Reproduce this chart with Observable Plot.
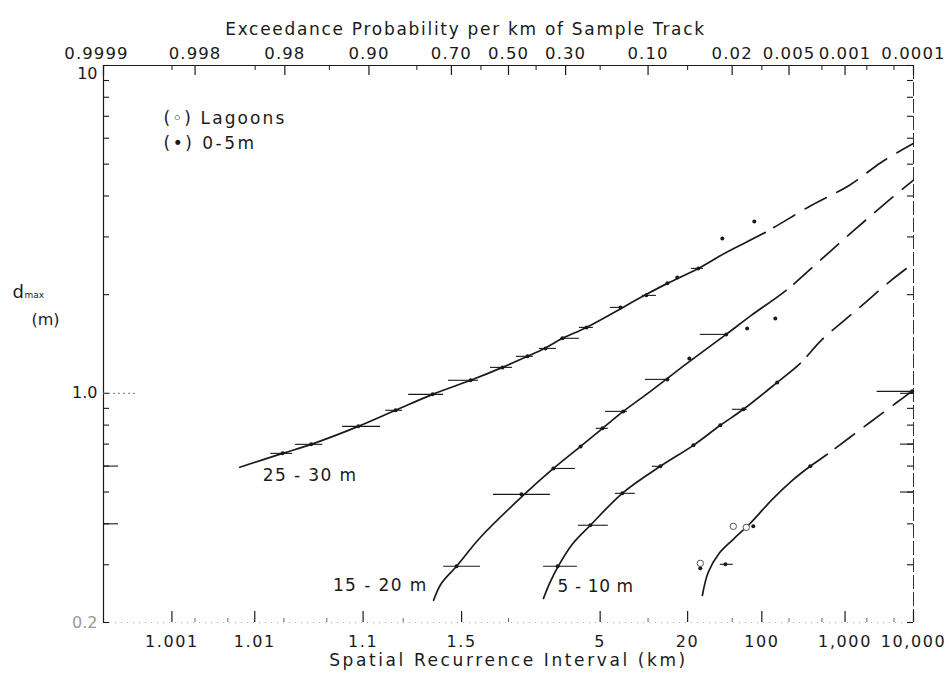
<!DOCTYPE html>
<html>
<head>
<meta charset="utf-8">
<script src="https://cdn.jsdelivr.net/npm/d3@7"></script>
<script src="https://cdn.jsdelivr.net/npm/@observablehq/plot@0.6"></script>
<style>
  html, body { margin: 0; padding: 0; background: #fff; }
  #chart svg { display: block; }
</style>
</head>
<body>
<div id="chart"></div>
<script>
// ---------------------------------------------------------------------------
// Axis ticks
// ---------------------------------------------------------------------------
const exceedanceTicks  = [0.9999, 0.998, 0.98, 0.90, 0.70, 0.50, 0.30, 0.10, 0.02, 0.005, 0.001, 0.0001];
const exceedanceLabels = ["0.9999", "0.998", "0.98", "0.90", "0.70", "0.50", "0.30", "0.10", "0.02", "0.005", "0.001", "0.0001"];
const exceedanceMinor  = [0.999, 0.99, 0.95, 0.80, 0.60, 0.40, 0.20, 0.05, 0.01, 0.002, 0.0005, 0.0002];
const intervalTicks    = [1.001, 1.01, 1.1, 1.5, 5, 20, 100, 1000, 10000];
const intervalLabels   = ["1.001", "1.01", "1.1", "1.5", "5", "20", "100", "1,000", "10,000"];
const intervalMinor    = [1.002, 1.005, 1.02, 1.05, 1.2, 2, 10, 50, 200, 500, 2000, 5000];
const depthTicks       = [0.2, 0.3, 0.4, 0.5, 0.6, 0.7, 0.8, 0.9, 1, 2, 3, 4, 5, 6, 7, 8, 9, 10];
const depthLongLeft    = [0.4, 0.6];
const depthLongRight   = [0.5, 0.7, 1];
const depthLabelValues = [10, 1, 0.2];
const depthLabels      = ["10", "1.0", "0.2"];

// ---------------------------------------------------------------------------
// Fitted curves: exceedance probability per km (P) vs maximum depth d_max (m).
// The "Obs" part is the observed range, the "Ext" part the extrapolation.
// ---------------------------------------------------------------------------
const fit2530ObsP = [0.9932, 0.981, 0.965, 0.916, 0.850, 0.757, 0.636, 0.522, 0.431, 0.371, 0.310, 0.237, 0.1027, 0.0723, 0.0407, 0.0228, 0.0092];
const fit2530ObsD = [0.595, 0.656, 0.699, 0.793, 0.888, 0.993, 1.096, 1.200, 1.297, 1.371, 1.472, 1.589, 2.004, 2.165, 2.405, 2.691, 3.097];
const fit2530ExtP = [0.00272, 0.00088, 0.000311, 0.000101];
const fit2530ExtD = [3.743, 4.307, 5.062, 5.783];

const fit1520ObsP = [0.7543, 0.731, 0.6833, 0.6014, 0.4453, 0.340, 0.254, 0.194, 0.146, 0.1027, 0.0723, 0.0494, 0.0228, 0.0129, 0.00539];
const fit1520ObsD = [0.2338, 0.2634, 0.2970, 0.364, 0.489, 0.590, 0.689, 0.782, 0.881, 0.993, 1.111, 1.243, 1.513, 1.729, 2.061];
const fit1520ExtP = [0.00204, 0.000704, 0.000221, 0.000101];
const fit1520ExtD = [2.562, 3.185, 3.931, 4.461];

const fit510ObsP = [0.374, 0.353, 0.326, 0.279, 0.226, 0.148, 0.0816, 0.0448, 0.0259, 0.0155, 0.0068, 0.00369];
const fit510ObsD = [0.237, 0.2634, 0.2947, 0.3465, 0.396, 0.4955, 0.599, 0.694, 0.799, 0.894, 1.080, 1.234];
const fit510ExtP = [0.00204, 0.000704, 0.000221, 0.000101];
const fit510ExtD = [1.451, 1.791, 2.211, 2.491];

const fit05ObsP = [0.0375, 0.0333, 0.0265, 0.0195, 0.0132, 0.00771, 0.00471, 0.0028, 0.00171];
const fit05ObsD = [0.2421, 0.2846, 0.3252, 0.3588, 0.4015, 0.4752, 0.5391, 0.5991, 0.6517];
const fit05ExtP = [0.000494, 0.000180, 0.000101];
const fit05ExtD = [0.804, 0.939, 1.021];

// ---------------------------------------------------------------------------
// Observations (dots) and their recurrence ranges (horizontal bars)
// ---------------------------------------------------------------------------
const obs2530P = [0.981, 0.965, 0.916, 0.850, 0.757, 0.636, 0.522, 0.431, 0.367, 0.310, 0.237, 0.152, 0.1027, 0.0723, 0.0606, 0.0407, 0.0248, 0.0120];
const obs2530D = [0.656, 0.699, 0.793, 0.888, 0.993, 1.096, 1.200, 1.297, 1.371, 1.472, 1.589, 1.829, 1.990, 2.165, 2.258, 2.405, 2.969, 3.345];
const bar2530P1 = [0.9855, 0.9747, 0.9361, 0.8703, 0.8204, 0.7088, 0.5655, 0.4709, 0.3882, 0.3167, 0.2575, 0.1746, 0.1095, 0.0466];
const bar2530P2 = [0.9763, 0.9560, 0.8798, 0.8345, 0.7244, 0.6083, 0.4853, 0.4094, 0.3300, 0.2575, 0.2177, 0.1436, 0.0872, 0.0368];
const bar2530D  = [0.656, 0.699, 0.793, 0.888, 0.993, 1.096, 1.200, 1.297, 1.371, 1.472, 1.589, 1.829, 1.990, 2.405];

const obs1520P = [0.6833, 0.4526, 0.340, 0.254, 0.194, 0.146, 0.0723, 0.0484, 0.0228, 0.0142, 0.00714];
const obs1520D = [0.2970, 0.492, 0.590, 0.689, 0.782, 0.881, 1.103, 1.278, 1.513, 1.578, 1.693];
const bar1520P1 = [0.7244, 0.5549, 0.340, 0.210, 0.1867, 0.1044, 0.0391];
const bar1520P2 = [0.6014, 0.3501, 0.2693, 0.1796, 0.1375, 0.0723, 0.0228];
const bar1520D  = [0.2970, 0.492, 0.590, 0.782, 0.881, 1.103, 1.513];

const obs510P = [0.326, 0.226, 0.148, 0.0816, 0.0448, 0.0259, 0.0155, 0.0068];
const obs510D = [0.297, 0.396, 0.4955, 0.599, 0.694, 0.799, 0.894, 1.080];
const bar510P1 = [0.374, 0.2604, 0.1631, 0.0933, 0.0199];
const bar510P2 = [0.2633, 0.1796, 0.122, 0.0789, 0.0142];
const bar510D  = [0.297, 0.396, 0.4955, 0.599, 0.894];

const obs05P = [0.0391, 0.0232, 0.0123, 0.0028, 0.000105];
const obs05D = [0.2927, 0.301, 0.393, 0.599, 1.014];
const bar05P1 = [0.0259, 0.000356];
const bar05P2 = [0.0195, 0.000105];
const bar05D  = [0.301, 1.014];

const lagoonP = [0.0391, 0.0195, 0.0145];
const lagoonD = [0.303, 0.393, 0.390];

// ---------------------------------------------------------------------------
// Normal-probability axis: position = inverse normal CDF of (1 - P)
// ---------------------------------------------------------------------------
function probit(p) {
  const a = [-3.969683028665376e+01, 2.209460984245205e+02, -2.759285104469687e+02, 1.383577518672690e+02, -3.066479806614716e+01, 2.506628277459239e+00];
  const b = [-5.447609879822406e+01, 1.615858368580409e+02, -1.556989798598866e+02, 6.680131188771972e+01, -1.328068155288572e+01];
  const c = [-7.784894002430293e-03, -3.223964580411365e-01, -2.400758277161838e+00, -2.549732539343734e+00, 4.374664141464968e+00, 2.938163982698783e+00];
  const e = [7.784695709041462e-03, 3.224671290700398e-01, 2.445134137142996e+00, 3.754408661907416e+00];
  const lo = 0.02425, hi = 1 - lo;
  if (p < lo) {
    const q = Math.sqrt(-2 * Math.log(p));
    return (((((c[0]*q+c[1])*q+c[2])*q+c[3])*q+c[4])*q+c[5]) / ((((e[0]*q+e[1])*q+e[2])*q+e[3])*q+1);
  }
  if (p <= hi) {
    const q = p - 0.5, r = q * q;
    return (((((a[0]*r+a[1])*r+a[2])*r+a[3])*r+a[4])*r+a[5])*q / (((((b[0]*r+b[1])*r+b[2])*r+b[3])*r+b[4])*r+1);
  }
  const q = Math.sqrt(-2 * Math.log(1 - p));
  return -(((((c[0]*q+c[1])*q+c[2])*q+c[3])*q+c[4])*q+c[5]) / ((((e[0]*q+e[1])*q+e[2])*q+e[3])*q+1);
}
const toX = (P) => probit(1 - P);

const pts = (P, D) => P.map((p, i) => ({x: toX(p), y: D[i]}));
const bars = (P1, P2, D) => D.map((d, i) => ({x1: toX(P1[i]), x2: toX(P2[i]), y: d}));

// ---------------------------------------------------------------------------
// Layout
// ---------------------------------------------------------------------------
const W = 949, H = 683;
const mL = 103, mR = 36, mT = 65, mB = 61;
const xMin = toX(0.9999), xMax = toX(0.0001);
const yMin = 0.2, yMax = 10;
const xPerPx = (xMax - xMin) / (W - mL - mR);
const decPerPx = Math.log10(yMax / yMin) / (H - mT - mB);
const yShift = (v, px) => v * 10 ** (px * decPerPx);   // px > 0 moves up

const FONT = "'DejaVu Sans', 'Liberation Sans', sans-serif";
const INK = "#1a1a1a";

// whole curves (observed + extrapolated) and where the extrapolation begins
const curves = [
  {pts: pts(fit2530ObsP.concat(fit2530ExtP), fit2530ObsD.concat(fit2530ExtD)), joinP: fit2530ObsP[fit2530ObsP.length - 1]},
  {pts: pts(fit1520ObsP.concat(fit1520ExtP), fit1520ObsD.concat(fit1520ExtD)), joinP: fit1520ObsP[fit1520ObsP.length - 1]},
  {pts: pts(fit510ObsP.concat(fit510ExtP),   fit510ObsD.concat(fit510ExtD)),   joinP: fit510ObsP[fit510ObsP.length - 1]},
  {pts: pts(fit05ObsP.concat(fit05ExtP),     fit05ObsD.concat(fit05ExtD)),     joinP: fit05ObsP[fit05ObsP.length - 1]}
];
const dots = [
  ...pts(obs2530P, obs2530D), ...pts(obs1520P, obs1520D),
  ...pts(obs510P, obs510D), ...pts(obs05P, obs05D)
];
const rangeBars = [
  ...bars(bar2530P1, bar2530P2, bar2530D), ...bars(bar1520P1, bar1520P2, bar1520D),
  ...bars(bar510P1, bar510P2, bar510D), ...bars(bar05P1, bar05P2, bar05D)
];
const lagoons = pts(lagoonP, lagoonD);

// Curve labels anchored near each curve's lower end
const curveLabels = [
  {text: "25 - 30 m", P: 0.988, d: 0.562, anchor: "start"},
  {text: "15 - 20 m", P: 0.771, d: 0.260, anchor: "end"},
  {text: "5 - 10 m",  P: 0.326, d: 0.258, anchor: "start"}
];

const topTicks = exceedanceTicks.map((p, i) => ({x: toX(p), label: exceedanceLabels[i]}));
const bottomTicks = intervalTicks.map((t, i) => ({x: toX(1 / t), label: intervalLabels[i]}));
const yLabels = depthLabelValues.map((v, i) => ({y: v, label: depthLabels[i]}));

const txt = {fill: INK};

const plot = Plot.plot({
  width: W, height: H,
  marginLeft: mL, marginRight: mR, marginTop: mT, marginBottom: mB,
  style: {fontFamily: FONT, background: "#fff", color: INK, overflow: "visible"},
  x: {type: "linear", domain: [xMin, xMax], axis: null},
  y: {type: "log", domain: [yMin, yMax], axis: null},
  marks: [
    // frame: top and left solid, right broken, bottom faint dotted
    Plot.ruleY([yMax], {x1: xMin, x2: xMax, stroke: INK, strokeWidth: 1.2}),
    Plot.ruleX([xMin], {stroke: INK, strokeWidth: 1.2}),
    Plot.ruleX([xMax], {stroke: "#333", strokeWidth: 1, strokeDasharray: "14,3"}),
    Plot.ruleY([yMin], {x1: xMin, x2: xMax, stroke: "#aaa", strokeWidth: 1, strokeDasharray: "1,5"}),

    // top axis ticks (pointing down into the plot)
    Plot.ruleX(topTicks, {x: "x", y1: () => yMax, y2: () => yShift(yMax, -10), stroke: INK, strokeWidth: 1.2}),
    Plot.ruleX(exceedanceMinor, {x: (p) => toX(p), y1: () => yMax, y2: () => yShift(yMax, -5), stroke: INK, strokeWidth: 1}),
    // bottom axis ticks (pointing up)
    Plot.ruleX(bottomTicks, {x: "x", y1: () => yMin, y2: () => yShift(yMin, 11), stroke: INK, strokeWidth: 1.2}),
    Plot.ruleX(intervalMinor, {x: (t) => toX(1 / t), y1: () => yMin, y2: () => yShift(yMin, 4), stroke: "#666", strokeWidth: 1}),
    // left and right axis ticks (pointing inward)
    Plot.ruleY(depthTicks, {y: (v) => v, x1: () => xMin, x2: () => xMin + 6 * xPerPx, stroke: INK, strokeWidth: 1.1}),
    Plot.ruleY(depthLongLeft, {y: (v) => v, x1: () => xMin, x2: () => xMin + 15 * xPerPx, stroke: INK, strokeWidth: 1.1}),
    Plot.ruleY(depthTicks, {y: (v) => v, x1: () => xMax, x2: () => xMax - 6 * xPerPx, stroke: INK, strokeWidth: 1.1}),
    Plot.ruleY(depthLongRight, {y: (v) => v, x1: () => xMax, x2: () => xMax - 13 * xPerPx, stroke: INK, strokeWidth: 1.1}),
    Plot.ruleY([1], {x1: () => xMin, x2: () => xMin + 34 * xPerPx, stroke: "#777", strokeWidth: 1, strokeDasharray: "2,3"}),

    // fitted curves (extrapolated part is dashed after render)
    ...curves.map((c) => Plot.line(c.pts, {x: "x", y: "y", curve: "catmull-rom", stroke: INK, strokeWidth: 1.7})),

    // observations
    Plot.ruleY(rangeBars, {x1: "x1", x2: "x2", y: "y", stroke: INK, strokeWidth: 1.1}),
    Plot.dot(dots, {x: "x", y: "y", r: 2, fill: INK, stroke: "none"}),
    Plot.dot(lagoons, {x: "x", y: "y", r: 3.2, fill: "#fff", stroke: "#555", strokeWidth: 1}),

    // curve labels
    ...curveLabels.map((c) => Plot.text([c], {x: (d) => toX(d.P), y: "d", text: "text", textAnchor: c.anchor, fontSize: 17, ...txt})),

    // tick labels (the first top label sits a little left of its tick)
    Plot.text(topTicks.slice(0, 1), {x: "x", y: () => yMax, dx: -7, dy: -12, text: "label", fontSize: 16.5, ...txt}),
    Plot.text(topTicks.slice(1), {x: "x", y: () => yMax, dy: -12, text: "label", fontSize: 16.5, ...txt}),
    Plot.text(bottomTicks, {x: "x", y: () => yMin, dy: 19, text: "label", fontSize: 16, ...txt}),
    Plot.text(yLabels, {x: () => xMin, y: "y", dx: -6, text: "label", textAnchor: "end", fontSize: 16,
      fill: (d) => d.y === yMin ? "#999" : INK}),

    // axis titles
    Plot.text(["Exceedance Probability per km of Sample Track"], {frameAnchor: "top", dx: -43, dy: -43, fontSize: 17, ...txt}),
    Plot.text(["Spatial Recurrence Interval (km)"], {frameAnchor: "bottom", dx: 0, dy: 43, fontSize: 17, ...txt}),
    Plot.text(["d"], {frameAnchor: "top-left", dx: -91, dy: 220, fontSize: 18, textAnchor: "start", ...txt}),
    Plot.text(["max"], {frameAnchor: "top-left", dx: -79, dy: 226, fontSize: 9, textAnchor: "start", ...txt}),
    Plot.text(["(m)"], {frameAnchor: "top-left", dx: -72, dy: 248, fontSize: 16, ...txt}),

    // legend
    Plot.text(["(◦) Lagoons"], {frameAnchor: "top-left", dx: 60, dy: 46, fontSize: 17, textAnchor: "start", ...txt}),
    Plot.text(["(•) 0-5m"], {frameAnchor: "top-left", dx: 60, dy: 71, fontSize: 17, textAnchor: "start", ...txt})
  ]
});

document.getElementById("chart").appendChild(plot);

// Wide lettering: letter spacing per text
const spacing = new Map([
  ["Exceedance Probability per km of Sample Track", 1.7],
  ["Spatial Recurrence Interval (km)", 2.6],
  ["(◦) Lagoons", 2.1],
  ["(•) 0-5m", 2.5],
  ["25 - 30 m", 1.4],
  ["15 - 20 m", 1.4],
  ["5 - 10 m", 0.6]
]);
const topText = new Set(exceedanceLabels);
const bottomText = new Set(intervalLabels);
d3.select(plot).selectAll("text").each(function () {
  const t = this.textContent;
  const ls = spacing.has(t) ? spacing.get(t) : topText.has(t) ? 1.1 : bottomText.has(t) ? 1.6 : 0;
  if (ls) this.style.letterSpacing = ls + "px";
});
// the "10" label sits just below the top edge
d3.select(plot).selectAll("text").filter(function () { return this.textContent === "10"; })
  .attr("transform", function () { return (this.getAttribute("transform") || "") + " translate(0,8)"; });

// Dash each curve from the point where its extrapolation begins.
const xs = plot.scale("x");
const xPx = (v) => (xs && typeof xs.apply === "function")
  ? xs.apply(v)
  : mL + (v - xMin) / (xMax - xMin) * (W - mL - mR);
d3.select(plot).selectAll('g[aria-label="line"] path').each(function (_, i) {
  const c = curves[i];
  if (!c) return;
  const target = xPx(toX(c.joinP));
  const total = this.getTotalLength();
  let lo = 0, hi = total;
  for (let k = 0; k < 40; k++) {
    const mid = (lo + hi) / 2;
    if (this.getPointAtLength(mid).x < target) lo = mid; else hi = mid;
  }
  const pattern = [lo.toFixed(1), 10];
  for (let k = 0; k < 40; k++) pattern.push(24, 12);
  this.setAttribute("stroke-dasharray", pattern.join(" "));
});
</script>
</body>
</html>
